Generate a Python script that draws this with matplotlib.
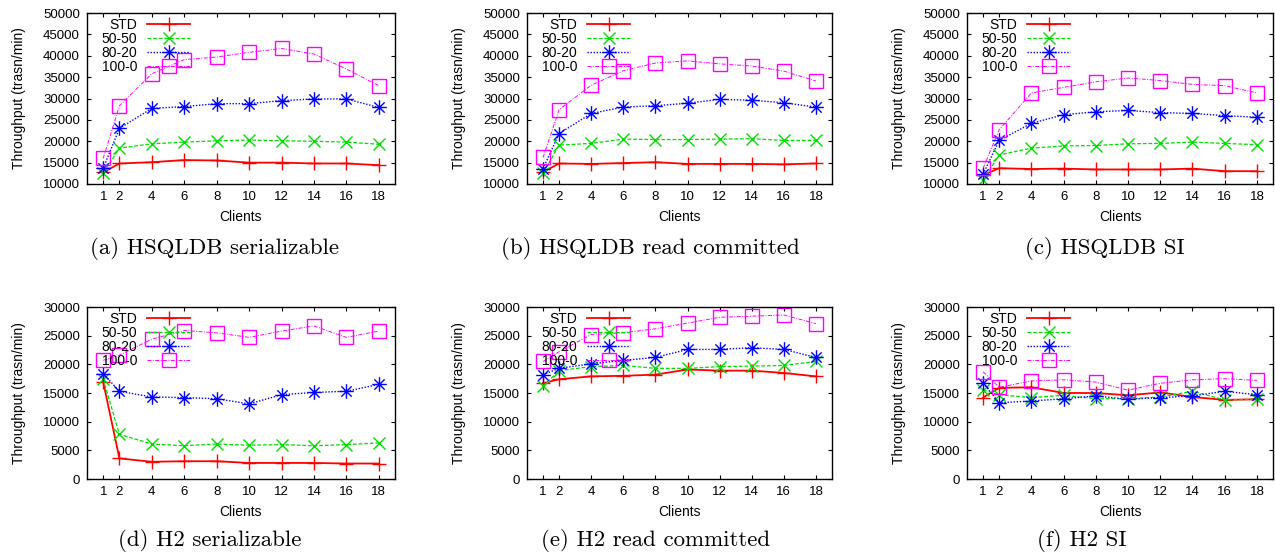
import matplotlib
matplotlib.use("Agg")
import matplotlib.pyplot as plt
import numpy as np
from matplotlib.path import Path

plt.rcParams['font.family'] = ['Liberation Sans', 'DejaVu Sans']

clients = [1, 2, 4, 6, 8, 10, 12, 14, 16, 18]
series_names = ['STD', '50-50', '80-20', '100-0']

# (a) HSQLDB serializable
hsql_ser_std = [12700, 14800, 15100, 15600, 15500, 15000, 15000, 14800, 14800, 14400]
hsql_ser_5050 = [12500, 18400, 19400, 19800, 20100, 20300, 20100, 20000, 19800, 19300]
hsql_ser_8020 = [13700, 23000, 27700, 28100, 28800, 28800, 29500, 29900, 29900, 27900]
hsql_ser_1000 = [16000, 28300, 35800, 39100, 39700, 40800, 41700, 40400, 36900, 33000]

# (b) HSQLDB read committed
hsql_rc_std = [12800, 14800, 14700, 14900, 15100, 14700, 14700, 14700, 14600, 14800]
hsql_rc_5050 = [12500, 19100, 19500, 20500, 20400, 20400, 20500, 20600, 20200, 20200]
hsql_rc_8020 = [13600, 21800, 26500, 28000, 28300, 28900, 29800, 29600, 29000, 28000]
hsql_rc_1000 = [16200, 27400, 33100, 36500, 38300, 38800, 38100, 37600, 36400, 34100]

# (c) HSQLDB SI
hsql_si_std = [12100, 13700, 13500, 13600, 13400, 13400, 13400, 13600, 13000, 13000]
hsql_si_5050 = [10900, 16800, 18400, 18900, 19000, 19400, 19500, 19800, 19500, 19200]
hsql_si_8020 = [12300, 20200, 24200, 26200, 26900, 27200, 26700, 26500, 26000, 25600]
hsql_si_1000 = [13700, 22700, 31300, 32600, 33900, 34800, 34200, 33300, 33000, 31300]

# (d) H2 serializable
h2_ser_std = [16900, 3600, 3000, 3100, 3100, 2800, 2800, 2800, 2700, 2700]
h2_ser_5050 = [17400, 7800, 6100, 5800, 6100, 5900, 6000, 5800, 6000, 6300]
h2_ser_8020 = [18400, 15300, 14300, 14200, 14000, 13100, 14700, 15100, 15300, 16500]
h2_ser_1000 = [20700, 21600, 24400, 25900, 25500, 24700, 25800, 26700, 24700, 25800]

# (e) H2 read committed
h2_rc_std = [16700, 17400, 17900, 18000, 18200, 19100, 18900, 18900, 18500, 17900]
h2_rc_5050 = [16200, 18900, 19600, 19800, 19300, 19300, 19600, 19700, 19800, 20500]
h2_rc_8020 = [18200, 19300, 20100, 20700, 21200, 22600, 22600, 22900, 22600, 21200]
h2_rc_1000 = [20500, 22200, 25200, 25500, 26200, 27200, 28200, 28400, 28600, 27100]

# (f) H2 SI
h2_si_std = [14200, 15900, 16000, 15000, 15000, 14600, 15100, 14300, 13800, 13900]
h2_si_5050 = [15500, 14700, 14200, 14600, 14000, 14000, 14300, 15300, 13800, 13900]
h2_si_8020 = [16700, 13300, 13600, 14000, 14500, 13900, 14200, 14500, 15300, 14700]
h2_si_1000 = [18700, 16000, 17100, 17300, 16900, 15500, 16700, 17300, 17500, 17200]

captions = ['(a) HSQLDB serializable', '(b) HSQLDB read committed', '(c) HSQLDB SI',
            '(d) H2 serializable', '(e) H2 read committed', '(f) H2 SI']
panels = [
    [hsql_ser_std, hsql_ser_5050, hsql_ser_8020, hsql_ser_1000],
    [hsql_rc_std, hsql_rc_5050, hsql_rc_8020, hsql_rc_1000],
    [hsql_si_std, hsql_si_5050, hsql_si_8020, hsql_si_1000],
    [h2_ser_std, h2_ser_5050, h2_ser_8020, h2_ser_1000],
    [h2_rc_std, h2_rc_5050, h2_rc_8020, h2_rc_1000],
    [h2_si_std, h2_si_5050, h2_si_8020, h2_si_1000],
]

# gnuplot style asterisk: + and x overlaid
s = 0.707
star_path = Path(
    [(-1, 0), (1, 0), (0, -1), (0, 1), (-s, -s), (s, s), (-s, s), (s, -s)],
    [Path.MOVETO, Path.LINETO] * 4)

styles = [
    dict(color='#ff0000', linestyle='-', linewidth=1.3, marker='+', markersize=10, mew=1.0),
    dict(color='#00dd00', linestyle=(0, (3, 1.5)), linewidth=0.9, marker='x', markersize=8.5, mew=1.0),
    dict(color='#0000ff', linestyle=(0, (1, 1.2)), linewidth=1.0, marker=star_path, markersize=10.5, mew=1.0),
    dict(color='#ff00ff', linestyle=(0, (4, 1.5, 1, 1.5)), linewidth=0.7, marker='s', markersize=9.5,
         mew=1.0, markerfacecolor='none'),
]

fig = plt.figure(figsize=(12.75, 5.56), dpi=100)
W, H = 1275, 556
lefts = [87, 527, 967]
widths = [308, 305, 306]
rows = [(13, 184), (307, 479)]
cap_x = [214, 650, 1105, 210, 656, 1082]
cap_y = [248, 541]

for i, data in enumerate(panels):
    r, c = divmod(i, 3)
    top, bot = rows[r]
    ax = fig.add_axes([lefts[c] / W, 1 - bot / H, widths[c] / W, (bot - top) / H])
    for name, vals, st in zip(series_names, data, styles):
        ax.plot(clients, vals, label=name, **st)
    ax.set_xlim(0, 19)
    ax.set_xticks(clients)
    if r == 0:
        ax.set_ylim(10000, 50000)
        ax.set_yticks(np.arange(10000, 50001, 5000))
    else:
        ax.set_ylim(0, 30000)
        ax.set_yticks(np.arange(0, 30001, 5000))
    ax.tick_params(direction='in', top=True, right=True, labelsize=9.5, length=3, pad=5)
    for sp in ax.spines.values():
        sp.set_linewidth(1.0)
    ax.set_xlabel('Clients', fontsize=10, labelpad=5)
    ax.set_ylabel('Throughput (trasn/min)', fontsize=10, labelpad=12)
    ax.legend(loc='upper left', markerfirst=False, frameon=False, fontsize=10,
              handlelength=3.1, labelspacing=0.0, handletextpad=0.7,
              borderaxespad=0.1, bbox_to_anchor=(0.025, 1.012))
    fig.text(cap_x[i] / W, 1 - cap_y[r] / H, captions[i], ha='center', va='center',
             fontsize=16.5, family='cmr10')

fig.savefig('out.png', dpi=100)
